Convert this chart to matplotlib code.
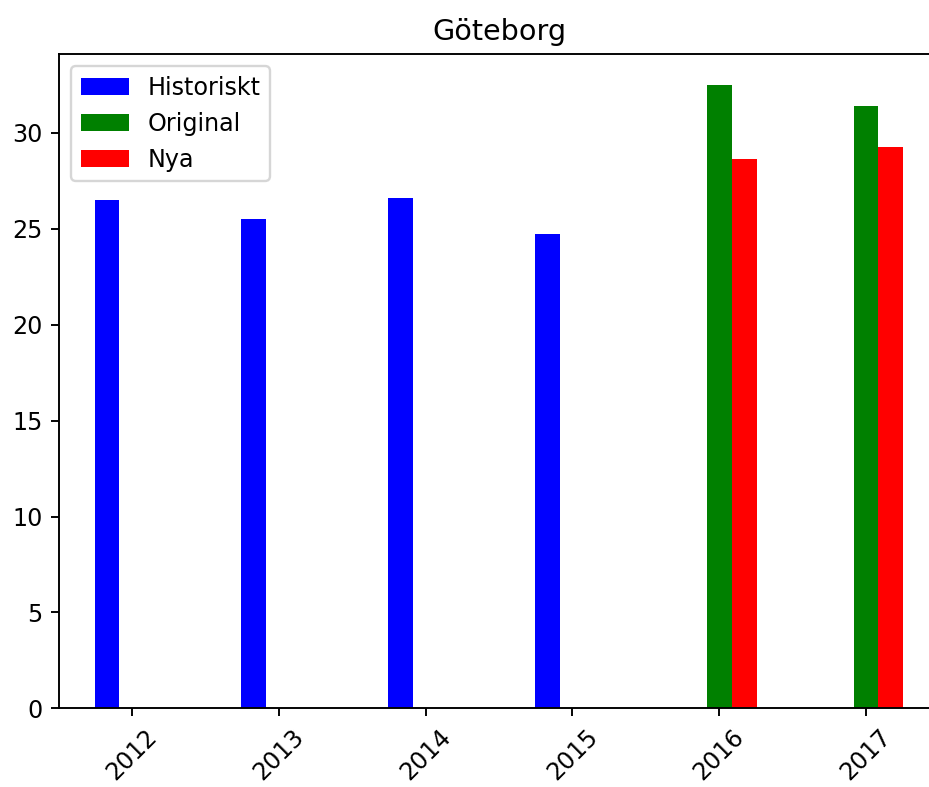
import numpy
import matplotlib
matplotlib.use("Agg")
import matplotlib.pyplot as plt

years = [2012, 2013, 2014, 2015, 2016, 2017]
hist_years = [2012, 2013, 2014, 2015]
hist_values = [26.5, 25.5, 26.6, 24.75]
pred_years = [2016, 2017]
original_values = [32.5, 31.4]
nya_values = [28.65, 29.25]

width = 0.17
dpi = 172

fig = plt.figure(figsize=(929 / dpi, 787 / dpi), dpi=dpi)
ax = fig.add_axes([0.0638, 0.100, 0.9474, 0.831])

ax.bar(numpy.array(hist_years) - width, hist_values, width, color="blue", label="Historiskt")
ax.bar(numpy.array(pred_years), original_values, width, color="green", label="Original")
ax.bar(numpy.array(pred_years) + width, nya_values, width, color="red", label="Nya")

ax.set_title("Göteborg")
ax.set_xticks(years)
ax.set_xticklabels([str(y) for y in years], rotation=45)
ax.set_xlim(2011.505, 2017.5)
ax.set_ylim(0, 34.1)
ax.legend(loc="upper left")

fig.savefig("out.png", dpi=dpi)
